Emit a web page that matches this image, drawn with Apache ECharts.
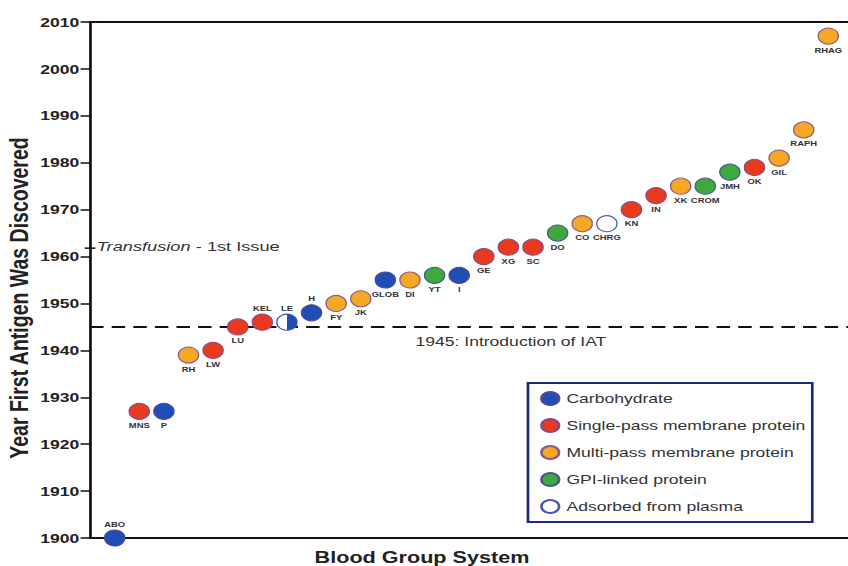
<!DOCTYPE html>
<html>
<head>
<meta charset="utf-8">
<script src="https://cdn.jsdelivr.net/npm/echarts@6/dist/echarts.min.js"></script>
<style>
html,body{margin:0;padding:0;background:#fff;overflow:hidden}
#wrap{width:848px;height:566px;overflow:hidden}
#c{width:628px;height:566px;transform:scaleX(1.35032);transform-origin:0 0}
</style>
</head>
<body>
<div id="wrap"><div id="c"></div></div>
<script>
const systems = ['ABO','MNS','P','RH','LW','LU','KEL','LE','H','FY','JK','GLOB','DI','YT','I','GE','XG','SC','DO','CO','CHRG','KN','IN','XK','CROM','JMH','OK','GIL','RAPH','RHAG'];
const years = [1900,1927,1927,1939,1940,1945,1946,1946,1948,1950,1951,1955,1955,1956,1956,1960,1962,1962,1965,1967,1967,1970,1973,1975,1975,1978,1979,1981,1987,2007];
const types = ['C','S','C','M','S','S','S','C','C','M','M','C','M','G','C','S','S','S','G','M','A','S','S','M','G','G','S','M','M','M'];
const typeNames = {C:'Carbohydrate',S:'Single-pass membrane protein',M:'Multi-pass membrane protein',G:'GPI-linked protein',A:'Adsorbed from plasma'};
const typeOrder = ['C','S','M','G','A'];
const yTicks = [1900,1910,1920,1930,1940,1950,1960,1970,1980,1990,2000,2010];
const iatYear = 1945;
const transfusionYear = 1962;
const labelsAbove = ['ABO','KEL','LE','H'];
const halfSystems = ['LE'];

const colors = {C:'#1f4fb4',S:'#ea3a1e',M:'#f6a724',G:'#3caa3c',A:'#ffffff'};
const borders = {C:'#4a4a9a',S:'#8a4a8a',M:'#8a5a8a',G:'#4a5a8a',A:'#4a5ab0'};
const FONT = 'Liberation Sans';

const chart = echarts.init(document.getElementById('c'), null, {renderer:'svg'});
const series = typeOrder.map(t => ({
  name: typeNames[t],
  type: 'scatter',
  z: 3,
  symbol: 'circle',
  symbolSize: [15,16],
  itemStyle: {color: colors[t], borderColor: borders[t], borderWidth: 1, opacity: 1},
  label: {show: true, formatter: p => p.data.name, fontSize: 7, fontWeight: 'bold', color: '#333', fontFamily: FONT, distance: 2},
  data: systems.map((s,i) => ({s,i})).filter(o => types[o.i] === t).map(o => {
    const d = {name: o.s, value: [o.i+1, years[o.i]], label: {position: labelsAbove.includes(o.s) ? 'top' : 'bottom'}};
    if (halfSystems.includes(o.s)) {
      d.itemStyle = {color: {type:'linear',x:0,y:0,x2:1,y2:0,colorStops:[{offset:0,color:'#fff'},{offset:0.5,color:'#fff'},{offset:0.5,color:colors.C},{offset:1,color:colors.C}]}, borderColor:'#3050b0'};
    }
    return d;
  })
}));
series.push({
  name: 'iat', type: 'scatter', z: 1, data: [],
  markLine: {
    silent: true, symbol: 'none', z: 1,
    lineStyle: {color:'#111', type:[10,6], width:2},
    label: {show:true, position:'insideMiddleBottom', formatter:'1945: Introduction of IAT', fontSize:13, color:'#333', fontFamily:FONT, offset:[31,3]},
    data: [{yAxis: iatYear}]
  }
});

chart.setOption({
  animation: false,
  title: {text:'Blood Group System', left: 228, top: 545, textStyle:{fontSize:16, fontWeight:'bold', color:'#222', fontFamily:FONT}},
  grid: {left: 66.7, right: 0, top: 22, bottom: 28, outerBoundsMode: 'none', containLabel: false},
  legend: {
    orient: 'vertical', left: 391, top: 383,
    data: typeOrder.map(t => typeNames[t]),
    icon: 'circle',
    borderColor: '#1a2a80', borderWidth: 2, padding: [8, 5, 8, 9],
    itemGap: 12, itemWidth: 14, itemHeight: 13,
    textStyle: {fontSize: 13, color: '#333', fontFamily: FONT}
  },
  xAxis: [
    {type:'value', min:0, max:30.8, position:'bottom', axisLine:{show:true, onZero:false, lineStyle:{color:'#111', width:2}}, axisTick:{show:false}, axisLabel:{show:false}, splitLine:{show:false}},
    {type:'value', min:0, max:30.8, position:'top', axisLine:{show:true, lineStyle:{color:'#111', width:2}}, axisTick:{show:false}, axisLabel:{show:false}, splitLine:{show:false}}
  ],
  yAxis: {
    type:'value', min:1900, max:2010, interval:10,
    name:'Year First Antigen Was Discovered', nameLocation:'middle', nameGap:43, nameMoveOverlap:false,
    nameTextStyle:{fontSize:19.5, fontWeight:'bold', color:'#222', fontFamily:FONT, padding:[0,0,0,-36]},
    axisLine:{show:true, lineStyle:{color:'#111', width:2}},
    axisTick:{show:true, length:7, lineStyle:{color:'#111', width:1.5}},
    axisLabel:{fontSize:13, fontWeight:'bold', color:'#222', fontFamily:FONT, margin:8, formatter: v => String(v), customValues: yTicks},
    splitLine:{show:false}
  },
  series: series
});

const p = chart.convertToPixel({xAxisIndex:0, yAxisIndex:0}, [0, transfusionYear]);
chart.setOption({
  graphic: [
    {type:'line', shape:{x1:p[0]-4, y1:p[1]+1, x2:p[0]+4, y2:p[1]+1}, style:{stroke:'#111', lineWidth:1.5}},
    {type:'text', left: p[0]+5, top: p[1]-8, style:{rich:{i:{fontStyle:'italic', fontSize:13.5, fill:'#333', fontFamily:FONT}, n:{fontSize:13.5, fill:'#333', fontFamily:FONT}}, text:'{i|Transfusion}{n| - 1st Issue}'}}
  ]
});
</script>
</body>
</html>
